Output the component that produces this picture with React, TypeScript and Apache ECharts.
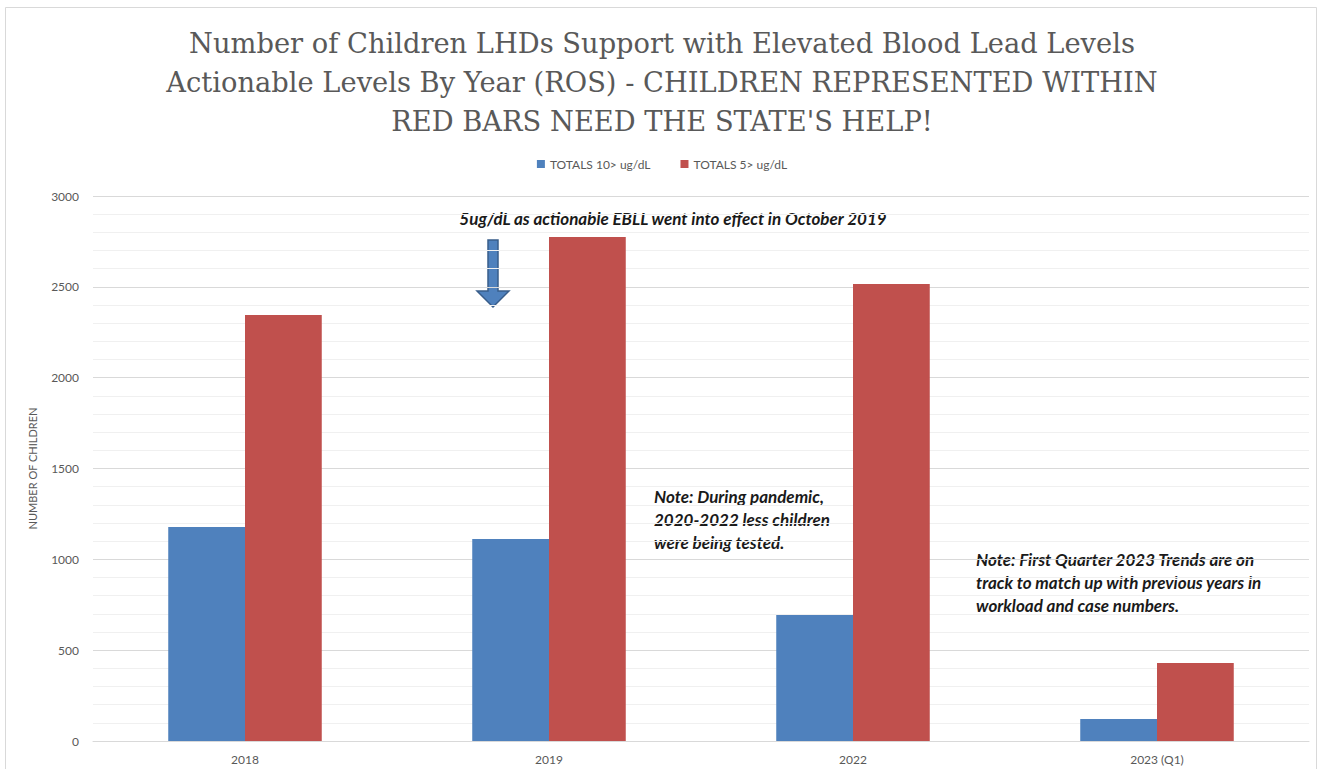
import React, { useEffect, useRef } from "react";
import * as echarts from "echarts";

const categories = ["2018", "2019", "2022", "2023 (Q1)"];
const totals10 = [1178, 1112, 693, 121];
const totals5 = [2345, 2774, 2515, 429];
const seriesNames = ["TOTALS 10> ug/dL", "TOTALS 5> ug/dL"];
const titleLines = [
  "Number of Children LHDs Support with Elevated Blood Lead Levels",
  "Actionable Levels By Year (ROS) - CHILDREN REPRESENTED WITHIN",
  "RED BARS NEED THE STATE'S HELP!",
];
const noteTop = "5ug/dL as actionable EBLL went into effect in October 2019";
const notePandemic = "Note: During pandemic,\n2020-2022 less children\nwere being tested.";
const noteQ1 = "Note: First Quarter 2023 Trends are on\ntrack to match up with previous years in\nworkload and case numbers.";

export default function App() {
  const ref = useRef<HTMLDivElement>(null);
  useEffect(() => {
    const chart = echarts.init(ref.current!, undefined, { renderer: "svg" });
    const noteStyle = {
      font: "italic bold 17px Lato",
      fill: "#1a1a1a",
      lineHeight: 23,
    };
    chart.setOption({
      animation: false,
      backgroundColor: "#ffffff",
      title: {
        text: titleLines.join("\n"),
        left: "center",
        top: 19,
        textStyle: {
          fontFamily: "DejaVu Serif",
          fontSize: 27.3,
          fontWeight: "normal",
          color: "#595959",
          lineHeight: 39,
        },
      },
      legend: {
        top: 153,
        left: "center",
        itemWidth: 8,
        itemHeight: 8,
        itemGap: 30,
        icon: "rect",
        textStyle: { fontFamily: "Lato", fontSize: 12, color: "#595959" },
        data: seriesNames,
      },
      grid: { left: 93, right: 15, top: 196, bottom: 28, containLabel: false },
      xAxis: {
        type: "category",
        data: categories,
        axisTick: { show: false },
        axisLine: { lineStyle: { color: "#D9D9D9" } },
        axisLabel: { fontFamily: "Lato", fontSize: 12, color: "#595959", margin: 12 },
      },
      yAxis: {
        type: "value",
        min: 0,
        max: 3000,
        interval: 500,
        name: "NUMBER OF CHILDREN",
        nameLocation: "middle",
        nameGap: 55,
        nameTextStyle: { fontFamily: "Lato", fontSize: 11, color: "#595959" },
        axisLabel: {
          fontFamily: "Lato",
          fontSize: 12,
          color: "#595959",
          margin: 14,
          formatter: (v: number) => String(v),
        },
        splitLine: { lineStyle: { color: "#D9D9D9", width: 1 } },
        minorTick: { show: false, splitNumber: 5 },
        minorSplitLine: { show: true, lineStyle: { color: "#F0F0F0", width: 1 } },
      },
      series: [
        {
          name: seriesNames[0],
          type: "bar",
          data: totals10,
          barGap: "0%",
          barCategoryGap: "49.5%",
          itemStyle: { color: "#4F81BD" },
        },
        {
          name: seriesNames[1],
          type: "bar",
          data: totals5,
          itemStyle: { color: "#C0504D" },
        },
      ],
      graphic: [
        {
          type: "rect",
          shape: { x: 5.5, y: 7.5, width: 1311, height: 770 },
          style: { fill: "none", stroke: "#D9D9D9", lineWidth: 1 },
          silent: true,
        },
        {
          type: "text",
          x: 673,
          y: 218,
          style: { ...noteStyle, text: noteTop, textAlign: "center", textVerticalAlign: "middle" },
        },
        {
          type: "polygon",
          shape: {
            points: [
              [488, 240],
              [498, 240],
              [498, 291],
              [509, 291],
              [493, 307],
              [477, 291],
              [488, 291],
            ],
          },
          style: { fill: "#4F81BD", stroke: "#385D8A", lineWidth: 1.5, lineJoin: "miter" },
        },
        {
          type: "text",
          x: 654,
          y: 485,
          style: { ...noteStyle, text: notePandemic, textAlign: "left", textVerticalAlign: "top" },
        },
        {
          type: "text",
          x: 976,
          y: 548,
          style: { ...noteStyle, text: noteQ1, textAlign: "left", textVerticalAlign: "top" },
        },
      ],
    });
    return () => chart.dispose();
  }, []);
  return (
    <div
      ref={ref}
      style={{ position: "absolute", left: 0, top: 0, width: 1324, height: 769 }}
    />
  );
}
